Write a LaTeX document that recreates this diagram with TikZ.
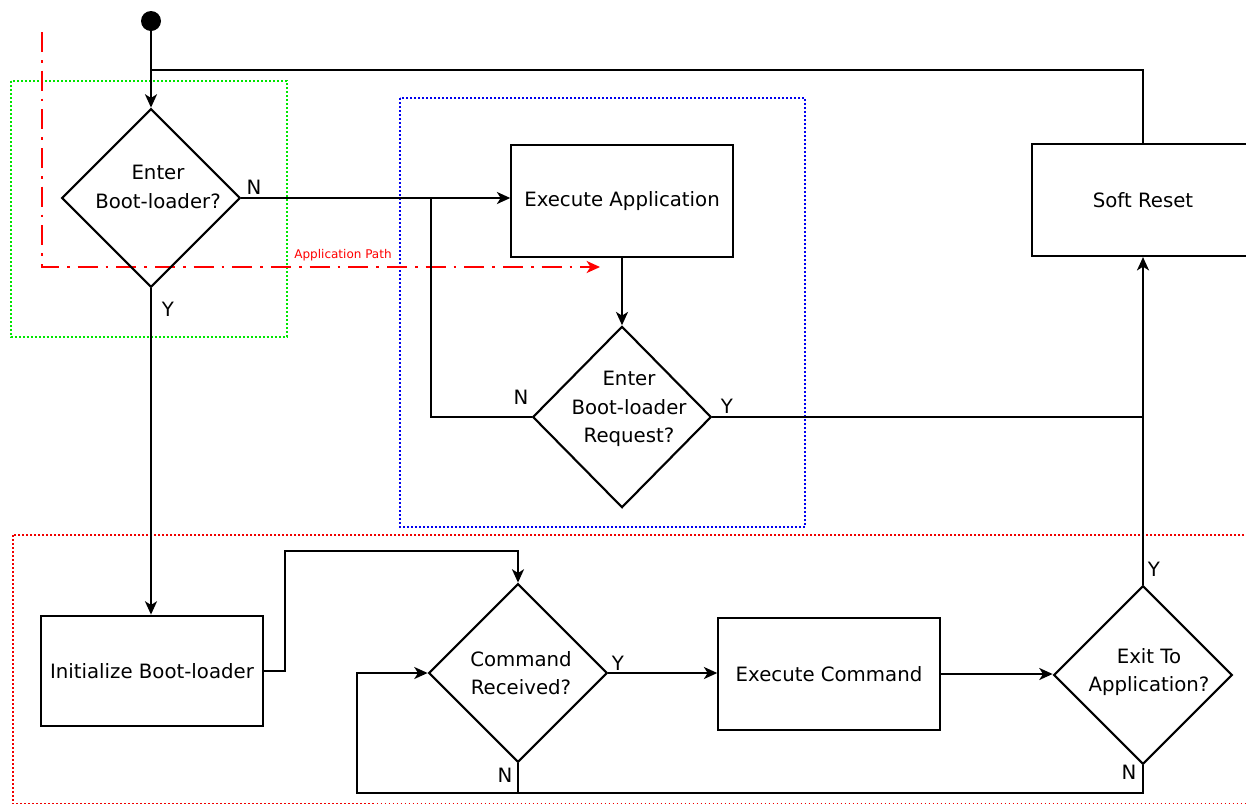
\documentclass[tikz,border=0pt]{standalone}
\usepackage{fontspec}
\setmainfont{DejaVu Sans}
\usetikzlibrary{shapes.geometric,arrows.meta}
\begin{document}
\begin{tikzpicture}[x=0.75pt,y=-0.75pt,
  conn/.style={line width=1.6pt},
  arr/.style={conn,-{Stealth[length=10pt,width=9pt,inset=2.8pt]}},
  box/.style={draw,line width=1.6pt,minimum width=166pt,minimum height=84pt,inner sep=0pt,font=\fontsize{14.8}{17}\selectfont},
  dia/.style={draw,diamond,line width=1.6pt,minimum width=134pt,minimum height=134pt,inner sep=0pt},
  txt/.style={font=\fontsize{14.8}{21.5}\selectfont,align=center},
  lbl/.style={font=\fontsize{14.8}{17}\selectfont,inner sep=0pt},
  grp/.style={line width=1.2pt,dash pattern=on 1.3pt off 1.7pt}]
\useasboundingbox (0,0) rectangle (1246,804);
% group frames
\draw[grp,color={rgb,255:red,0;green,230;blue,0}] (11,81) rectangle (287,337);
\draw[grp,color={rgb,255:red,0;green,0;blue,240}] (400,98) rectangle (805,527);
\draw[grp,color={rgb,255:red,240;green,0;blue,0}] (13,535) rectangle (1262,803.5);
% application path
\draw[red,line width=1.5pt,dash pattern=on 15pt off 6pt on 2pt off 6pt,-{Stealth[length=10pt,width=9pt,inset=2.8pt]}] (42,32) |- (600,267);
\node[red,font=\fontsize{9}{10}\selectfont,inner sep=0pt] (ap) at (343,255) {Application Path};
% nodes
\node[circle,fill,minimum size=15pt,inner sep=0pt] (start) at (151,21) {};
\node[dia] (d1) at (151,198) {};
\node[txt] at (158,187) {Enter\\Boot-loader?};
\node[box] (ea) at (622,201) {Execute Application};
\node[dia,minimum height=136pt] (d2) at (622,417) {};
\node[txt] at (629,409) {Enter\\Boot-loader\\Request?};
\node[box] (sr) at (1143,200) {Soft Reset};
\node[box,minimum height=83pt] (ib) at (152,671) {Initialize Boot-loader};
\node[dia] (d3) at (518,673) {};
\node[txt] at (521,673) {Command\\Received?};
\node[box] (ec) at (829,674) {Execute Command};
\node[dia] (d4) at (1143,675) {};
\node[txt] at (1149,672) {Exit To\\Application?};
% connectors
\coordinate (j0) at (151,70);
\coordinate (j1) at (431,198);
\coordinate (k1) at (285,551);
\coordinate (k2) at (357,793);
\draw[arr] (start) -- (d1.north);
\draw[conn] (j0) -| (sr.north);
\draw[arr] (d1.east) -- (d1.east -| ea.west);
\draw[conn] (d2.west) -| (j1);
\draw[arr] (ea.south) -- (d2.north);
\draw[conn] (d2.east) -- (d2.east -| sr.south);
\draw[arr] (d4.north) -- (sr.south);
\draw[arr] (d1.south) -- (d1.south |- ib.north);
\draw[arr] (ib.east) -| (k1) -| (d3.north);
\draw[arr] (d3.east) -- (d3.east -| ec.west);
\draw[arr] (ec.east) -- (ec.east -| d4.west);
\draw[arr] (d3.south) |- (k2) |- (d3.west);
\draw[conn] (d4.south) |- (d3.south |- k2);
% labels
\node[lbl] at (254,187) {N};
\node[lbl] at (168,309) {Y};
\node[lbl] at (521,397) {N};
\node[lbl] at (727,406) {Y};
\node[lbl] at (618,663) {Y};
\node[lbl] at (505,775) {N};
\node[lbl] at (1154,569) {Y};
\node[lbl] at (1129,772) {N};
\end{tikzpicture}
\end{document}
